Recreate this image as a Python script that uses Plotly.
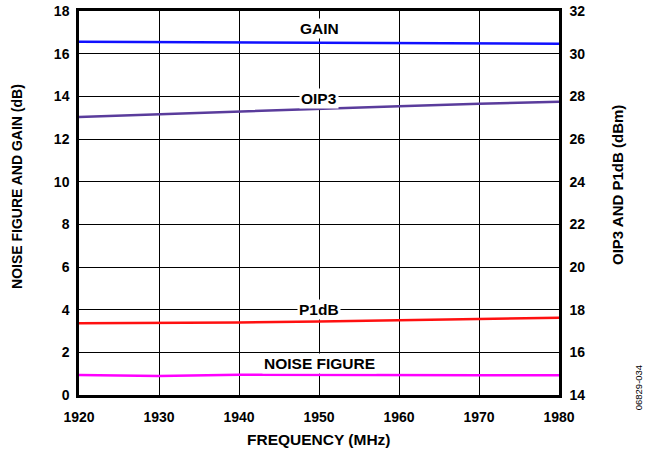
import plotly.graph_objects as go

freq_mhz = [1920, 1930, 1940, 1950, 1960, 1970, 1980]
gain_db = [16.56, 16.55, 16.53, 16.52, 16.51, 16.49, 16.47]
noise_figure_db = [0.94, 0.89, 0.95, 0.93, 0.91, 0.92, 0.93]
oip3_dbm = [27.03, 27.16, 27.30, 27.42, 27.54, 27.65, 27.75]
p1db_dbm = [17.36, 17.37, 17.40, 17.44, 17.50, 17.56, 17.62]

FONT = "Liberation Sans, Arial, sans-serif"


def bold(size):
    return dict(family=FONT, size=size, color="black", weight="bold")


fig = go.Figure()
fig.add_trace(go.Scatter(x=freq_mhz, y=gain_db, mode="lines",
                         line=dict(color="#1010ff", width=2.5), yaxis="y"))
fig.add_trace(go.Scatter(x=freq_mhz, y=noise_figure_db, mode="lines",
                         line=dict(color="#ff00ff", width=2.5), yaxis="y"))
fig.add_trace(go.Scatter(x=freq_mhz, y=oip3_dbm, mode="lines",
                         line=dict(color="#5a3c9c", width=2.5), yaxis="y2"))
fig.add_trace(go.Scatter(x=freq_mhz, y=p1db_dbm, mode="lines",
                         line=dict(color="#ff1010", width=2.5), yaxis="y2"))

# curve labels, placed at 1950 MHz on a white backing
labels = [("GAIN", 17.2, "y"), ("OIP3", 27.92, "y2"),
          ("P1dB", 18.03, "y2"), ("NOISE FIGURE", 1.5, "y")]
for text, yv, yref in labels:
    fig.add_annotation(x=1950, y=yv, xref="x", yref=yref, text=text,
                       showarrow=False, bgcolor="white", borderpad=1,
                       font=bold(15.5))

# axis titles
fig.add_annotation(x=0.5, y=-0.115, xref="paper", yref="paper",
                   text="FREQUENCY (MHz)", showarrow=False,
                   xanchor="center", yanchor="middle", font=bold(15.5))
fig.add_annotation(x=-0.129, y=0.542, xref="paper", yref="paper",
                   text="NOISE FIGURE AND GAIN (dB)", showarrow=False, textangle=-90,
                   xanchor="center", yanchor="middle", font=bold(14))
fig.add_annotation(x=1.123, y=0.547, xref="paper", yref="paper",
                   text="OIP3 AND P1dB (dBm)", showarrow=False, textangle=-90,
                   xanchor="center", yanchor="middle", font=bold(15))
fig.add_annotation(x=1.165, y=0.018, xref="paper", yref="paper",
                   text="06829-034", showarrow=False, textangle=-90,
                   xanchor="center", yanchor="middle",
                   font=dict(family=FONT, size=9.5, color="black"))

fig.update_layout(
    width=647, height=449,
    margin=dict(l=79, r=88, t=11, b=54, autoexpand=False),
    paper_bgcolor="white", plot_bgcolor="white",
    showlegend=False,
    xaxis=dict(range=[1920, 1980], dtick=10, tick0=1920, automargin=False,
               showgrid=True, gridcolor="black", gridwidth=1.3,
               showline=True, linecolor="black", linewidth=2.5, mirror=True,
               ticks="outside", ticklen=7, tickcolor="rgba(0,0,0,0)",
               tickfont=bold(14), zeroline=False),
    yaxis=dict(range=[0, 18], dtick=2, automargin=False,
               showgrid=True, gridcolor="black", gridwidth=1.3,
               showline=True, linecolor="black", linewidth=2.5,
               ticks="outside", ticklen=4, tickcolor="rgba(0,0,0,0)",
               tickfont=bold(14), zeroline=False),
    yaxis2=dict(range=[14, 32], dtick=2, overlaying="y", side="right",
                automargin=False, showgrid=False,
                showline=True, linecolor="black", linewidth=2.5,
                ticks="outside", ticklen=5, tickcolor="rgba(0,0,0,0)",
                tickfont=bold(14), zeroline=False),
)

fig.write_html("out.html")
